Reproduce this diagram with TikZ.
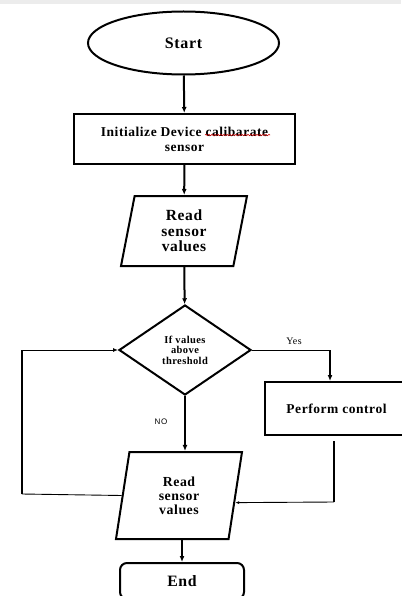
\documentclass[tikz,border=0pt]{standalone}
\usepackage{fontspec}
\setmainfont[LetterSpace=4]{Liberation Serif}
\newfontfamily\nofont[LetterSpace=10]{Liberation Sans}
\usetikzlibrary{shapes.geometric,arrows.meta,decorations.pathmorphing,calc}
\begin{document}
\begin{tikzpicture}[x=1pt,y=-1pt]
				\tikzstyle{box}=[draw,line width=2pt,inner sep=0pt,align=center,font=\bfseries]
				\tikzstyle{io}=[box,trapezium,trapezium stretches body,trapezium left angle=72,trapezium right angle=108]
				\tikzstyle{flow}=[line width=2pt,-{Latex[length=6pt,width=5pt]}]
				\tikzstyle{thin}=[line width=0.9pt]
				\useasboundingbox (0,0) rectangle (401,596);
				\fill[gray!15] (0,0) rectangle (401,4);
				\draw 
				node[box,ellipse,minimum width=191pt,minimum height=63pt,font=\bfseries\fontsize{16}{18}\selectfont](start)at(183.5,43){Start}
				node[box,minimum width=221pt,minimum height=50pt,font=\bfseries\fontsize{13.5}{15}\selectfont](init)at(184.5,139){Initialize Device calibarate\\sensor}
				node[io,minimum width=126pt,minimum height=70pt,font=\bfseries\fontsize{15.5}{15.5}\selectfont](read1)at(184,231){Read\\sensor\\values}
				node[box,diamond,minimum width=132pt,minimum height=90pt,font=\bfseries\fontsize{10.5}{10.5}\selectfont](cond)at(185,350){If values\\above\\threshold}
				node[box,minimum width=143pt,minimum height=53pt,font=\bfseries\fontsize{13.5}{15}\selectfont](perform)at(336.5,408.5){Perform control}
				node[io,trapezium left angle=70.4,trapezium right angle=109.6,minimum width=126pt,minimum height=87pt,font=\bfseries\fontsize{13.8}{14}\selectfont](read2)at(179,495.5){Read\\sensor\\values}
				node[box,rounded corners=7pt,minimum width=124pt,minimum height=36pt,font=\bfseries\fontsize{15.8}{17}\selectfont](end)at(182,581){End}
				node[font=\fontsize{10}{11}\selectfont](yes)at(294,341){Yes}
				node[font=\nofont\fontsize{8}{9}\selectfont](no)at(161,422){NO};
				
				\coordinate (ycorner) at (330,350);
				\coordinate (lbot) at (22,494);
				\coordinate (rtop) at (334,441);
				\coordinate (rbot) at (334,502);
				
				\draw[flow](start)--(init);
				\draw[flow](init)--(read1);
				\draw[flow](read1)--(cond);
				\draw[flow](cond.south)--(cond.south |- read2.north);
				\draw[flow](read2.south -| end.north)--(end.north);
				\draw[thin](cond.east)--(ycorner);
				\draw[flow](ycorner)--(ycorner |- perform.north);
				\draw[thin](read2.west)--(lbot);
				\draw[line width=2pt](lbot)--(lbot |- cond.west);
				\draw[thin,-{Latex[length=5pt,width=4pt]}](lbot |- cond.west)--(cond.west);
				\draw[line width=2pt](rtop)--(rbot);
				\draw[thin,-{Latex[length=4pt,width=3pt]}](rbot)--($(read2.bottom right corner)!0.42!(read2.top right corner)$);
				% spell check mark
				\draw[red!80!black,line width=0.6pt,decorate,decoration={snake,amplitude=0.7pt,segment length=3pt}](205,135)--(270,135);
				\end{tikzpicture}
\end{document}
